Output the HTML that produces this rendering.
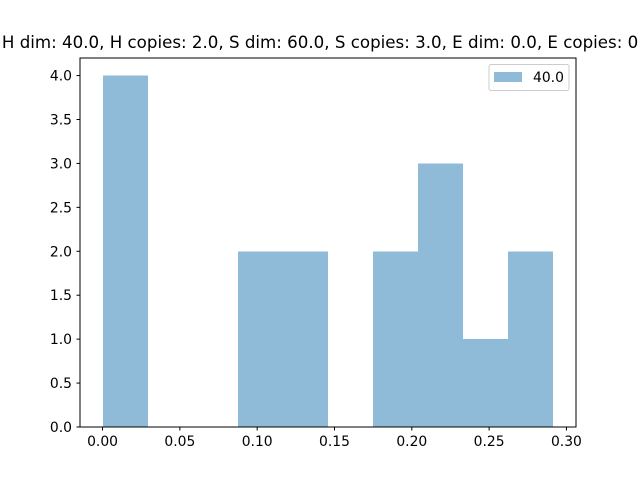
<!DOCTYPE html>
<html><head><meta charset="utf-8"><style>body{margin:0;background:#fff}svg{display:block;font-family:"DejaVu Sans","Liberation Sans",sans-serif}</style></head>
<body>
<svg id="chart" width="640" height="480">
<rect width="640" height="480" fill="#fff"/>
<text x="328" y="48" font-size="16.67" text-anchor="middle">H dim: 40.0, H copies: 2.0, S dim: 60.0, S copies: 3.0, E dim: 0.0, E copies: 0.0</text>
<g id="bars" shape-rendering="crispEdges"></g>
<g id="xt"></g><g id="yt"></g>
<rect x="80" y="58" width="496" height="369" fill="none" stroke="#000" stroke-width="1"/>
<g>
<rect x="489" y="64.5" width="80" height="26" rx="2" fill="#fff" stroke="#ccc"/>
<rect x="494" y="72" width="28" height="10" fill="#8fbbd9"/>
<text x="533" y="82" font-size="13.9">40.0</text>
</g>
</svg>
<script>
const counts=[4,0,0,2,2,0,2,3,1,2];
const binMin=0, binMax=0.2916;
const xTicks=[0,0.05,0.10,0.15,0.20,0.25,0.30];
const xTickLabels=["0.00","0.05","0.10","0.15","0.20","0.25","0.30"];
const yTicks=[0,0.5,1,1.5,2,2.5,3,3.5,4];
const yTickLabels=["0.0","0.5","1.0","1.5","2.0","2.5","3.0","3.5","4.0"];
const NS="http://www.w3.org/2000/svg";
const x0=-0.01458,x1=0.30618,y0=0,y1=4.2;
const X=v=>80+(v-x0)/(x1-x0)*496, Y=v=>427-(v-y0)/(y1-y0)*369;
const bars=document.getElementById('bars');
const w=(binMax-binMin)/counts.length;
counts.forEach((c,i)=>{if(!c)return;
const r=document.createElementNS(NS,'rect');
const a=Math.round(X(binMin+i*w)),b=Math.round(X(binMin+(i+1)*w));
r.setAttribute('x',a);r.setAttribute('width',b-a);r.setAttribute('y',Y(c));r.setAttribute('height',Y(0)-Y(c));
r.setAttribute('fill','#8fbbd9');


bars.appendChild(r);});
const xt=document.getElementById('xt');
xTicks.forEach((t,i)=>{const g=document.createElementNS(NS,'g');


g.innerHTML=`<line x1="${X(t)}" x2="${X(t)}" y1="427" y2="430.5" stroke="#000"/><text x="${X(t)}" y="446" font-size="13.9" text-anchor="middle">${xTickLabels[i]}</text>`;xt.appendChild(g);});
const yt=document.getElementById('yt');
yTicks.forEach((t,i)=>{const g=document.createElementNS(NS,'g');


g.innerHTML=`<line x1="76.5" x2="80" y1="${Y(t)}" y2="${Y(t)}" stroke="#000"/><text x="72" y="${Y(t)+5}" font-size="13.9" text-anchor="end">${yTickLabels[i]}</text>`;yt.appendChild(g);});
</script>
</body></html>
